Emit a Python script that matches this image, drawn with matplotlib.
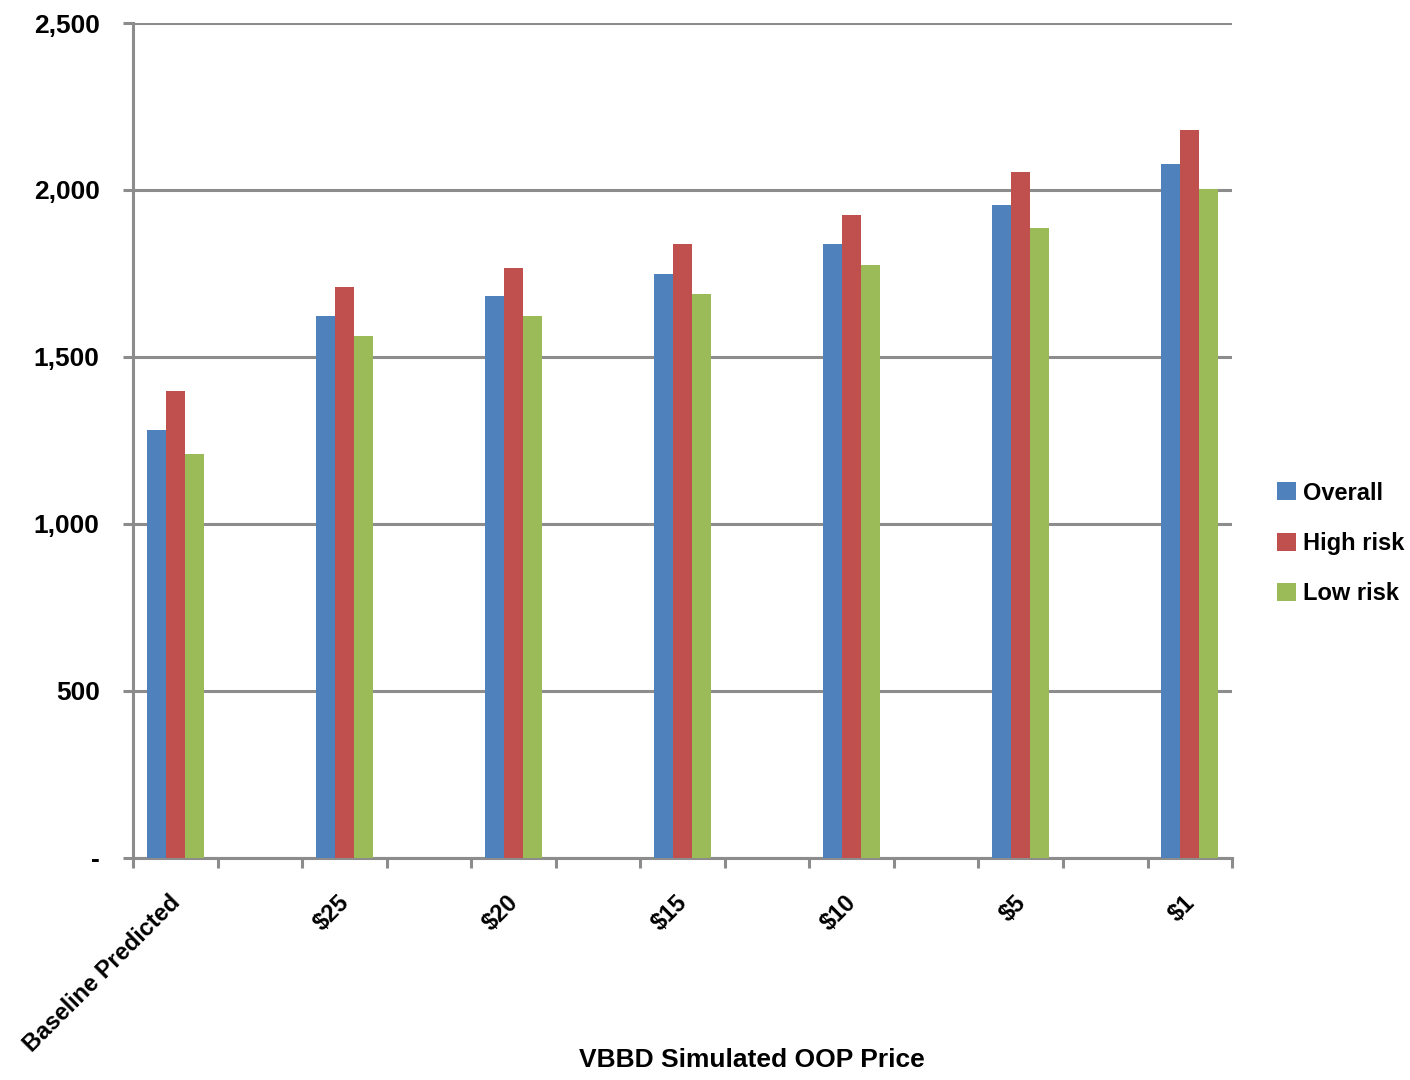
import numpy as np
import matplotlib.pyplot as plt
from matplotlib.ticker import FuncFormatter

plt.rcParams['font.family'] = ['Liberation Sans', 'DejaVu Sans']
plt.rcParams['font.weight'] = 'bold'

# simulated OOP price scenarios
labels = ['Baseline Predicted', '$25', '$20', '$15', '$10', '$5', '$1']
overall = [1282, 1623, 1683, 1749, 1838, 1955, 2078]
high_risk = [1398, 1710, 1766, 1838, 1925, 2054, 2180]
low_risk = [1210, 1563, 1623, 1689, 1775, 1886, 2003]

series = [('Overall', overall, '#4F81BD'),
          ('High risk', high_risk, '#C0504D'),
          ('Low risk', low_risk, '#9BBB59')]

grid_col = '#8C8C8C'
n_slots = 2 * len(labels) - 1          # blank slot between every scenario
centers = np.arange(len(labels)) * 2
bw = 0.225

fig = plt.figure(figsize=(14.1, 10.8), dpi=100)
ax = fig.add_axes([0.0943, 0.2056, 0.7795, 0.7731])

for k, (name, vals, col) in enumerate(series):
    ax.bar(centers + (k - 1) * bw, vals, width=bw, color=col, label=name, zorder=3)

ax.set_xlim(-0.5, n_slots - 0.5)
ax.set_ylim(0, 2500)
ax.set_yticks(np.arange(0, 2501, 500))
ax.yaxis.set_major_formatter(FuncFormatter(lambda v, p: '-' if v == 0 else f'{int(v):,}'))
ax.grid(axis='y', color=grid_col, lw=2.2, zorder=0)

# tick marks on slot boundaries, labels (invisible minor ticks) under each group
ax.set_xticks(np.arange(-0.5, n_slots, 1.0))
ax.set_xticklabels([])
ax.set_xticks(centers - 0.08, minor=True)
ax.set_xticklabels(labels, minor=True, rotation=45, ha='right', va='top',
                   rotation_mode='anchor', fontsize=17, fontweight='bold')
ax.tick_params(axis='x', which='minor', length=0, pad=24)
ax.tick_params(axis='x', which='major', length=7, width=2.2, color=grid_col)
ax.tick_params(axis='y', length=7, width=2.2, color=grid_col, labelsize=19, pad=17)
for lbl in ax.get_yticklabels():
    lbl.set_fontweight('bold')

for side in ['top', 'right']:
    ax.spines[side].set_visible(False)
for side in ['left', 'bottom']:
    ax.spines[side].set_color(grid_col)
    ax.spines[side].set_linewidth(2.2)

ax.set_xlabel('VBBD Simulated OOP Price', fontsize=19, fontweight='bold')
ax.xaxis.set_label_coords(0.563, -0.228)

fig.legend(loc='center left', bbox_to_anchor=(0.906, 0.497), frameon=False,
           fontsize=17, handlelength=0.8, handleheight=0.8, handletextpad=0.3,
           labelspacing=1.15, borderaxespad=0, borderpad=0)

plt.savefig('out.png', dpi=100)
plt.close()
